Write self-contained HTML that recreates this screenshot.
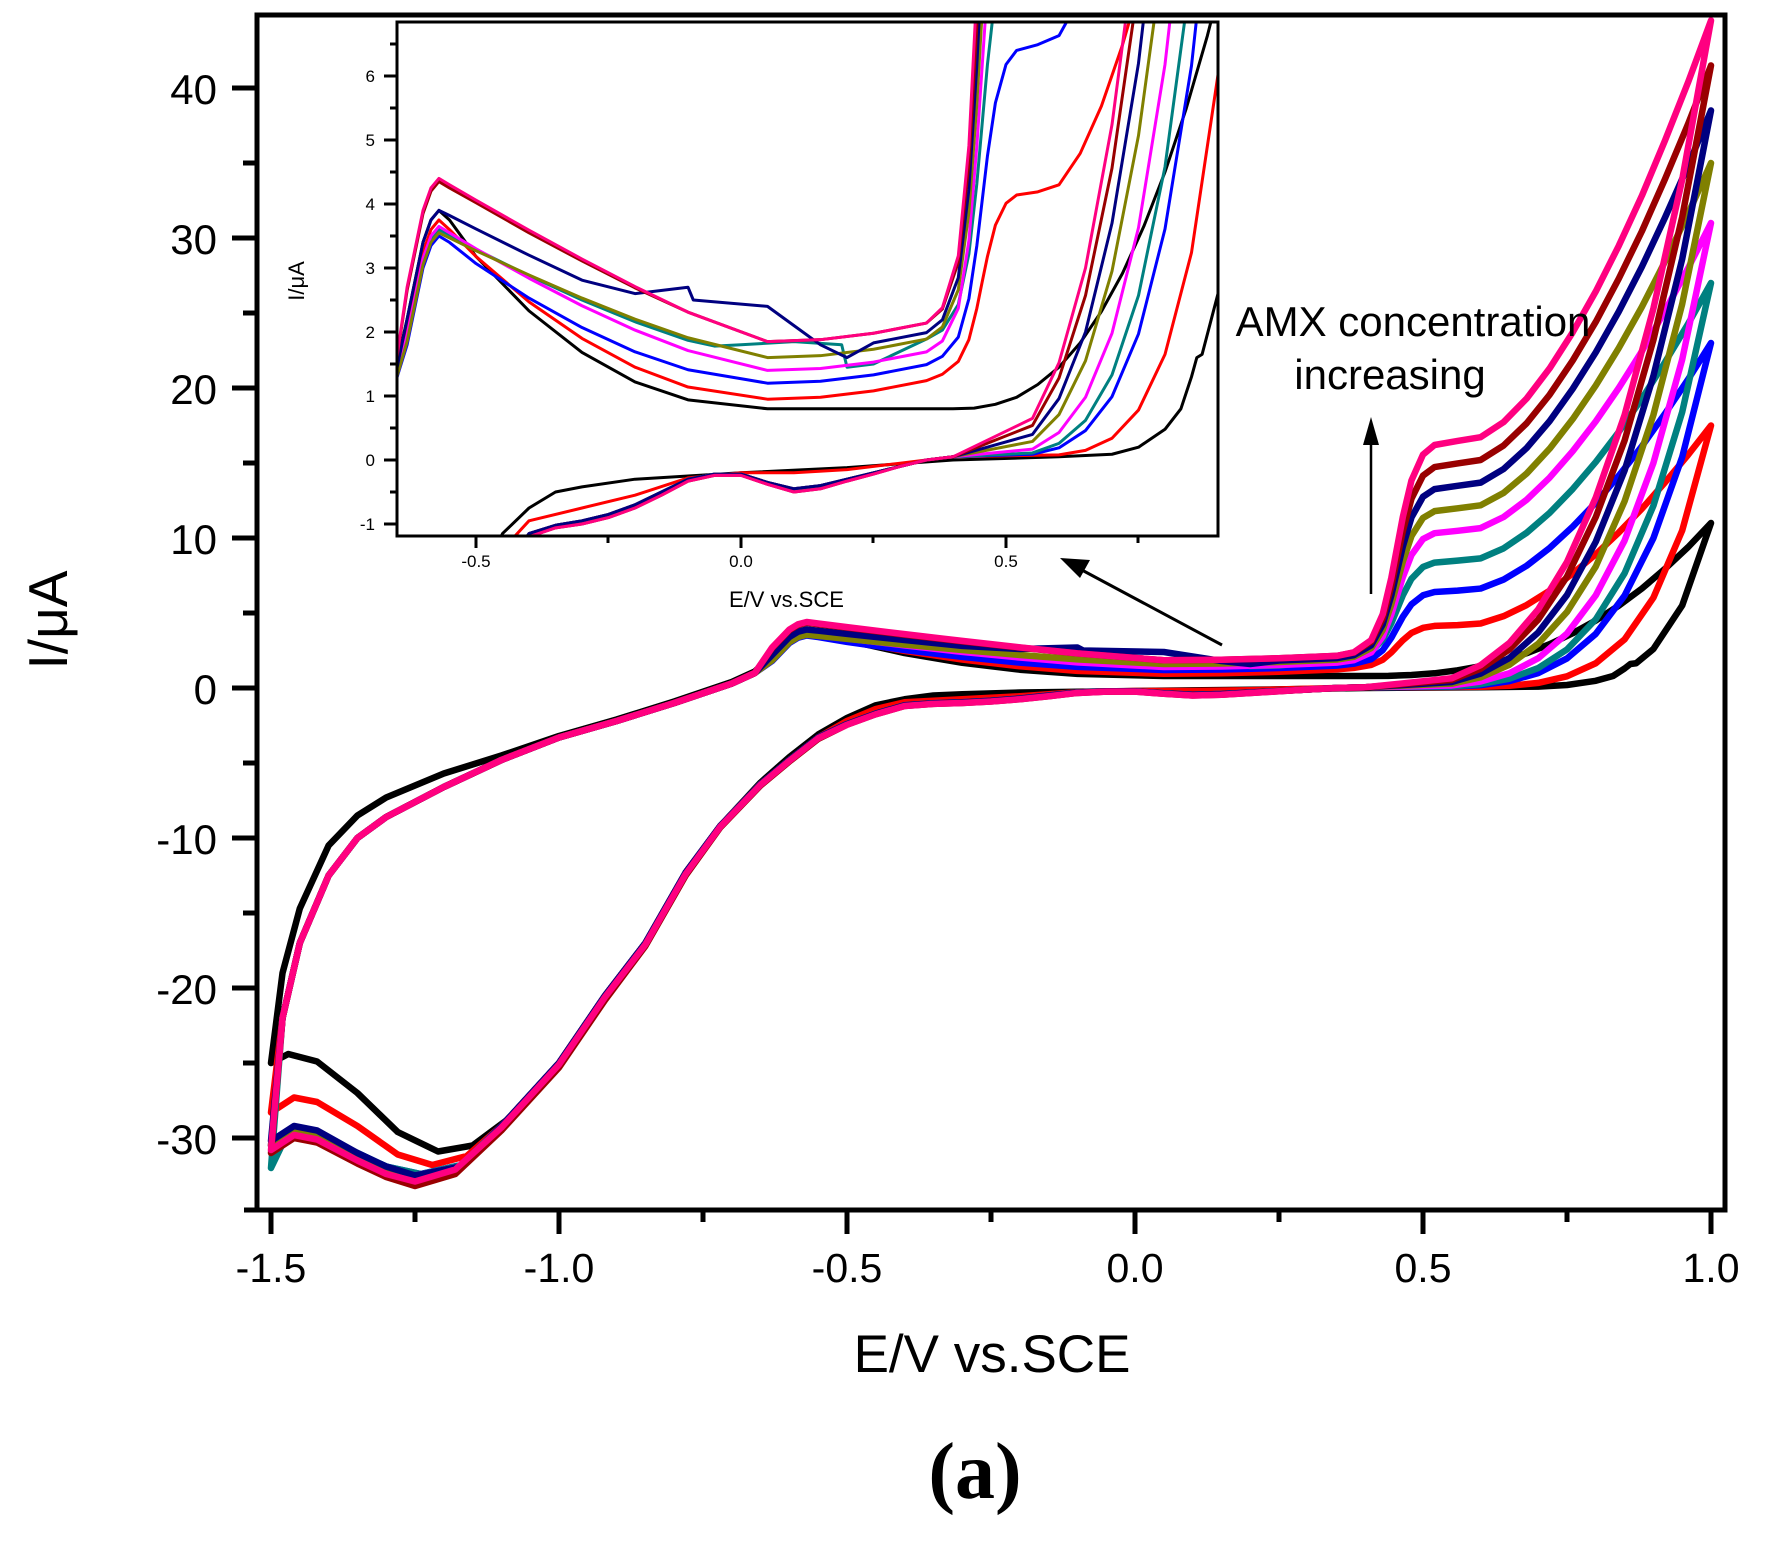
<!DOCTYPE html>
<html><head><meta charset="utf-8"><style>
html,body{margin:0;padding:0;background:#fff;width:1776px;height:1548px;overflow:hidden;}
svg{display:block;position:absolute;left:0;top:0;}
text{font-family:"Liberation Sans",sans-serif;fill:#000;}
.c path, .c use{fill:none;stroke-linejoin:round;stroke-linecap:round;}
</style></head><body>
<svg width="1776" height="1548" viewBox="0 0 1776 1548" xmlns="http://www.w3.org/2000/svg" xmlns:xlink="http://www.w3.org/1999/xlink">
<defs>
<clipPath id="cm"><rect x="259" y="17" width="1464" height="1191"/></clipPath>
<clipPath id="ci"><rect x="398" y="23" width="819" height="512"/></clipPath>
<path id="s0" vector-effect="non-scaling-stroke" d="M-1.5 -25 -1.47 -24.4 -1.42 -24.9 -1.35 -27 -1.28 -29.6 -1.21 -30.9 -1.15 -30.5 -1.08 -28.5 -1 -25 -0.92 -20.5 -0.85 -17 -0.78 -12.3 -0.72 -9.2 -0.65 -6.3 -0.6 -4.6 -0.55 -3.1 -0.5 -2 -0.45 -1.15 -0.4 -0.75 -0.35 -0.5 -0.3 -0.42 -0.2 -0.3 -0.1 -0.25 0 -0.2 0.2 -0.12 0.4 0 0.6 0.05 0.7 0.09 0.75 0.2 0.8 0.48 0.83 0.8 0.85 1.3 0.86 1.6 0.87 1.65 0.9 2.6 0.95 5.5 1 11 0.96 9.38 0.92 7.94 0.88 6.63 0.84 5.49 0.8 4.5 0.76 3.65 0.72 2.92 0.68 2.32 0.64 1.83 0.6 1.45 0.56 1.18 0.52 0.98 0.48 0.87 0.44 0.81 0.4 0.8 0.05 0.8 -0.1 0.94 -0.2 1.22 -0.3 1.68 -0.4 2.33 -0.5 3.18 -0.55 3.75 -0.57 3.9 -0.585 3.75 -0.6 3.4 -0.63 2.2 -0.66 1.1 -0.7 0.4 -0.8 -0.9 -0.9 -2.1 -1 -3.2 -1.1 -4.5 -1.2 -5.7 -1.3 -7.3 -1.35 -8.5 -1.4 -10.5 -1.45 -14.7 -1.48 -19 -1.5 -25"/>
<path id="s1" vector-effect="non-scaling-stroke" d="M-1.5 -28.3 -1.46 -27.3 -1.42 -27.6 -1.35 -29.2 -1.28 -31.1 -1.22 -31.8 -1.16 -31.2 -1.1 -29.2 -1 -25 -0.92 -20.5 -0.85 -17 -0.78 -12.3 -0.72 -9.2 -0.65 -6.4 -0.6 -4.8 -0.55 -3.3 -0.5 -2.2 -0.45 -1.4 -0.4 -0.95 -0.3 -0.75 -0.2 -0.55 -0.1 -0.28 0 -0.2 0.1 -0.2 0.2 -0.15 0.3 -0.05 0.4 0.05 0.6 0.08 0.65 0.15 0.7 0.34 0.75 0.78 0.8 1.65 0.85 3.24 0.9 6.02 0.95 10.5 1 17.5 0.96 15.53 0.92 13.7 0.88 11.95 0.84 10.37 0.8 8.92 0.76 7.63 0.72 6.49 0.68 5.53 0.64 4.79 0.6 4.3 0.56 4.19 0.52 4.14 0.5 4.01 0.48 3.67 0.465 3.18 0.455 2.78 0.445 2.37 0.43 1.88 0.41 1.54 0.38 1.34 0.35 1.24 0.25 1.08 0.15 0.98 0.05 0.95 -0.1 1.14 -0.2 1.45 -0.3 1.9 -0.4 2.47 -0.5 3.18 -0.55 3.6 -0.57 3.75 -0.585 3.6 -0.6 3.25 -0.63 2.05 -0.66 1 -0.7 0.3 -0.8 -1 -0.9 -2.2 -1 -3.3 -1.1 -4.8 -1.2 -6.6 -1.3 -8.6 -1.35 -10 -1.4 -12.5 -1.45 -17 -1.48 -22 -1.5 -28.3"/>
<path id="s2" vector-effect="non-scaling-stroke" d="M-1.5 -30.5 -1.46 -29.5 -1.42 -29.8 -1.35 -31 -1.3 -31.9 -1.24 -32.4 -1.17 -31.8 -1.1 -29.2 -1 -25 -0.92 -20.5 -0.85 -17 -0.78 -12.3 -0.72 -9.2 -0.65 -6.4 -0.6 -4.8 -0.55 -3.3 -0.5 -2.4 -0.45 -1.7 -0.4 -1.15 -0.35 -1.02 -0.3 -0.95 -0.25 -0.85 -0.2 -0.7 -0.15 -0.5 -0.1 -0.3 -0.05 -0.22 0 -0.22 0.05 -0.35 0.1 -0.45 0.15 -0.4 0.2 -0.3 0.25 -0.2 0.3 -0.1 0.35 0 0.4 0.05 0.55 0.09 0.6 0.19 0.65 0.46 0.7 0.99 0.75 1.97 0.8 3.61 0.85 6.16 0.9 9.99 0.95 15.4 1 23 0.96 20.56 0.92 18.28 0.88 16.12 0.84 14.16 0.8 12.36 0.76 10.76 0.72 9.34 0.68 8.15 0.64 7.23 0.6 6.63 0.56 6.49 0.52 6.4 0.5 6.18 0.48 5.58 0.465 4.75 0.455 4.05 0.445 3.35 0.43 2.52 0.41 1.92 0.38 1.62 0.35 1.49 0.25 1.33 0.15 1.23 0.05 1.2 -0.1 1.41 -0.2 1.69 -0.3 2.07 -0.4 2.53 -0.5 3.07 -0.55 3.4 -0.57 3.5 -0.585 3.35 -0.6 3 -0.63 1.8 -0.66 1 -0.7 0.3 -0.8 -1 -0.9 -2.2 -1 -3.3 -1.1 -4.8 -1.2 -6.6 -1.3 -8.6 -1.35 -10 -1.4 -12.5 -1.45 -17 -1.48 -22 -1.5 -30.5"/>
<path id="s3" vector-effect="non-scaling-stroke" d="M-1.5 -32 -1.47 -29.6 -1.42 -29.8 -1.35 -31 -1.3 -31.9 -1.24 -32.4 -1.17 -31.8 -1.1 -29.2 -1 -25 -0.92 -20.5 -0.85 -17 -0.78 -12.3 -0.72 -9.2 -0.65 -6.4 -0.6 -4.8 -0.55 -3.3 -0.5 -2.4 -0.45 -1.7 -0.4 -1.15 -0.35 -1.02 -0.3 -0.95 -0.25 -0.85 -0.2 -0.7 -0.15 -0.5 -0.1 -0.3 -0.05 -0.22 0 -0.22 0.05 -0.35 0.1 -0.45 0.15 -0.4 0.2 -0.3 0.25 -0.2 0.3 -0.1 0.35 0 0.4 0.05 0.55 0.11 0.6 0.26 0.65 0.62 0.7 1.33 0.75 2.57 0.8 4.58 0.85 7.65 0.9 12.15 0.95 18.4 1 27 0.96 24.26 0.92 21.71 0.88 19.29 0.84 17.08 0.8 15.07 0.76 13.27 0.72 11.68 0.68 10.35 0.64 9.31 0.6 8.64 0.56 8.49 0.52 8.36 0.5 8.07 0.48 7.28 0.465 6.18 0.455 5.25 0.445 4.32 0.43 3.22 0.41 2.43 0.38 2.03 0.35 1.89 0.25 1.5 0.2 1.45 0.19 1.8 0.1 1.85 0 1.8 -0.05 1.78 -0.1 1.87 -0.2 2.16 -0.3 2.5 -0.4 2.88 -0.5 3.29 -0.55 3.52 -0.57 3.6 -0.585 3.45 -0.6 3.1 -0.63 1.9 -0.66 1 -0.7 0.3 -0.8 -1 -0.9 -2.2 -1 -3.3 -1.1 -4.8 -1.2 -6.6 -1.3 -8.6 -1.35 -10 -1.4 -12.5 -1.45 -17 -1.48 -22 -1.5 -32"/>
<path id="s4" vector-effect="non-scaling-stroke" d="M-1.5 -30.5 -1.46 -29.5 -1.42 -29.8 -1.35 -31.1 -1.3 -32 -1.25 -32.5 -1.17 -31.9 -1.1 -29.2 -1 -25 -0.92 -20.5 -0.85 -17 -0.78 -12.3 -0.72 -9.2 -0.65 -6.4 -0.6 -4.8 -0.55 -3.3 -0.5 -2.4 -0.45 -1.7 -0.4 -1.15 -0.35 -1.02 -0.3 -0.95 -0.25 -0.85 -0.2 -0.7 -0.15 -0.5 -0.1 -0.3 -0.05 -0.22 0 -0.22 0.05 -0.35 0.1 -0.45 0.15 -0.4 0.2 -0.3 0.25 -0.2 0.3 -0.1 0.35 0 0.4 0.05 0.55 0.17 0.6 0.43 0.65 0.98 0.7 1.98 0.75 3.63 0.8 6.18 0.85 9.83 0.9 15 0.95 21.9 1 31 0.96 27.97 0.92 25.14 0.88 22.45 0.84 20.01 0.8 17.78 0.76 15.79 0.72 14.03 0.68 12.55 0.64 11.4 0.6 10.66 0.56 10.48 0.52 10.32 0.5 9.93 0.48 8.87 0.465 7.39 0.455 6.15 0.445 4.91 0.43 3.43 0.41 2.37 0.38 1.86 0.35 1.69 0.25 1.53 0.15 1.43 0.05 1.4 -0.1 1.71 -0.2 2.03 -0.3 2.41 -0.4 2.84 -0.5 3.3 -0.55 3.55 -0.57 3.65 -0.585 3.5 -0.6 3.15 -0.63 1.95 -0.66 1 -0.7 0.3 -0.8 -1 -0.9 -2.2 -1 -3.3 -1.1 -4.8 -1.2 -6.6 -1.3 -8.6 -1.35 -10 -1.4 -12.5 -1.45 -17 -1.48 -22 -1.5 -30.5"/>
<path id="s5" vector-effect="non-scaling-stroke" d="M-1.5 -30.5 -1.46 -29.5 -1.42 -29.8 -1.35 -31.2 -1.3 -32.1 -1.25 -32.7 -1.17 -32 -1.1 -29.2 -1 -25 -0.92 -20.5 -0.85 -17 -0.78 -12.3 -0.72 -9.2 -0.65 -6.4 -0.6 -4.8 -0.55 -3.3 -0.5 -2.4 -0.45 -1.7 -0.4 -1.15 -0.35 -1.02 -0.3 -0.95 -0.25 -0.85 -0.2 -0.7 -0.15 -0.5 -0.1 -0.3 -0.05 -0.22 0 -0.22 0.05 -0.35 0.1 -0.45 0.15 -0.4 0.2 -0.3 0.25 -0.2 0.3 -0.1 0.35 0 0.4 0.05 0.55 0.29 0.6 0.71 0.65 1.55 0.7 2.95 0.75 5.07 0.8 8.1 0.85 12.45 0.9 18.2 0.95 25.6 1 35 0.96 31.6 0.92 28.42 0.88 25.41 0.84 22.67 0.8 20.17 0.76 17.93 0.72 15.96 0.68 14.3 0.64 13.01 0.6 12.18 0.56 11.98 0.52 11.79 0.5 11.34 0.48 10.13 0.465 8.43 0.455 7 0.445 5.57 0.43 3.87 0.41 2.66 0.38 2.08 0.35 1.89 0.25 1.73 0.15 1.63 0.05 1.6 -0.1 1.91 -0.2 2.2 -0.3 2.53 -0.4 2.89 -0.5 3.27 -0.55 3.47 -0.57 3.55 -0.585 3.4 -0.6 3.05 -0.63 1.85 -0.66 1 -0.7 0.3 -0.8 -1 -0.9 -2.2 -1 -3.3 -1.1 -4.8 -1.2 -6.6 -1.3 -8.6 -1.35 -10 -1.4 -12.5 -1.45 -17 -1.48 -22 -1.5 -30.5"/>
<path id="s6" vector-effect="non-scaling-stroke" d="M-1.5 -30.2 -1.46 -29.2 -1.42 -29.5 -1.35 -31 -1.3 -31.9 -1.25 -32.5 -1.17 -31.9 -1.1 -29.2 -1 -25 -0.92 -20.5 -0.85 -17 -0.78 -12.3 -0.72 -9.2 -0.65 -6.4 -0.6 -4.8 -0.55 -3.3 -0.5 -2.4 -0.45 -1.7 -0.4 -1.15 -0.35 -1.02 -0.3 -0.95 -0.25 -0.85 -0.2 -0.7 -0.15 -0.5 -0.1 -0.3 -0.05 -0.22 0 -0.22 0.05 -0.35 0.1 -0.45 0.15 -0.4 0.2 -0.3 0.25 -0.2 0.3 -0.1 0.35 0 0.4 0.05 0.55 0.4 0.6 0.96 0.65 2 0.7 3.7 0.75 6.2 0.8 9.75 0.85 14.5 0.9 20.8 0.95 28.6 1 38.5 0.96 34.8 0.92 31.35 0.88 28.08 0.84 25.1 0.8 22.38 0.76 19.95 0.72 17.8 0.68 16 0.64 14.6 0.6 13.69 0.56 13.48 0.52 13.26 0.5 12.75 0.48 11.37 0.465 9.43 0.455 7.8 0.445 6.17 0.43 4.23 0.41 2.85 0.38 2.19 0.35 1.99 0.25 1.83 0.2 1.6 0.15 1.8 0.1 2.1 0.05 2.4 -0.09 2.5 -0.1 2.7 -0.2 2.6 -0.3 2.81 -0.4 3.2 -0.5 3.61 -0.55 3.82 -0.57 3.9 -0.585 3.75 -0.6 3.4 -0.63 2.2 -0.66 1 -0.7 0.3 -0.8 -1 -0.9 -2.2 -1 -3.3 -1.1 -4.8 -1.2 -6.6 -1.3 -8.6 -1.35 -10 -1.4 -12.5 -1.45 -17 -1.48 -22 -1.5 -30.2"/>
<path id="s7" vector-effect="non-scaling-stroke" d="M-1.5 -31 -1.46 -30 -1.42 -30.3 -1.35 -31.7 -1.3 -32.6 -1.25 -33.2 -1.18 -32.4 -1.1 -29.5 -1 -25.3 -0.92 -20.8 -0.85 -17.2 -0.78 -12.5 -0.72 -9.3 -0.65 -6.5 -0.6 -4.9 -0.55 -3.4 -0.5 -2.45 -0.45 -1.75 -0.4 -1.2 -0.35 -1.06 -0.3 -1 -0.25 -0.9 -0.2 -0.75 -0.15 -0.55 -0.1 -0.33 -0.05 -0.24 0 -0.24 0.05 -0.38 0.1 -0.5 0.15 -0.45 0.2 -0.33 0.25 -0.22 0.3 -0.1 0.35 0 0.4 0.05 0.55 0.54 0.6 1.28 0.65 2.57 0.7 4.56 0.75 7.43 0.8 11.4 0.85 16.5 0.9 23.2 0.95 31.4 1 41.5 0.96 37.58 0.92 33.92 0.88 30.45 0.84 27.3 0.8 24.41 0.76 21.84 0.72 19.56 0.68 17.65 0.64 16.17 0.6 15.2 0.56 14.97 0.52 14.73 0.5 14.16 0.48 12.62 0.465 10.45 0.455 8.63 0.445 6.8 0.43 4.63 0.41 3.09 0.38 2.36 0.35 2.14 0.25 1.98 0.15 1.88 0.05 1.85 -0.1 2.31 -0.2 2.69 -0.3 3.11 -0.4 3.55 -0.5 4.02 -0.55 4.25 -0.57 4.35 -0.585 4.2 -0.6 3.85 -0.63 2.65 -0.66 1 -0.7 0.3 -0.8 -1 -0.9 -2.2 -1 -3.3 -1.1 -4.8 -1.2 -6.6 -1.3 -8.6 -1.35 -10 -1.4 -12.5 -1.45 -17 -1.48 -22 -1.5 -31"/>
<path id="s8" vector-effect="non-scaling-stroke" d="M-1.5 -30.8 -1.46 -29.8 -1.42 -30.1 -1.35 -31.5 -1.3 -32.4 -1.25 -32.9 -1.18 -32.1 -1.1 -29.3 -1 -25.1 -0.92 -20.6 -0.85 -17.1 -0.78 -12.4 -0.72 -9.25 -0.65 -6.45 -0.6 -4.85 -0.55 -3.35 -0.5 -2.45 -0.45 -1.75 -0.4 -1.2 -0.35 -1.06 -0.3 -1 -0.25 -0.9 -0.2 -0.75 -0.15 -0.55 -0.1 -0.33 -0.05 -0.24 0 -0.24 0.05 -0.38 0.1 -0.5 0.15 -0.45 0.2 -0.33 0.25 -0.22 0.3 -0.1 0.35 0 0.4 0.05 0.55 0.65 0.6 1.52 0.65 3 0.7 5.24 0.75 8.4 0.8 12.7 0.85 18.2 0.9 25.3 0.95 33.9 1 44.5 0.96 40.36 0.92 36.49 0.88 32.82 0.84 29.49 0.8 26.44 0.76 23.72 0.72 21.32 0.68 19.3 0.64 17.73 0.6 16.72 0.56 16.47 0.52 16.2 0.5 15.56 0.48 13.84 0.465 11.41 0.455 9.38 0.445 7.34 0.43 4.91 0.41 3.19 0.38 2.38 0.35 2.14 0.25 1.98 0.15 1.88 0.05 1.85 -0.1 2.31 -0.2 2.71 -0.3 3.14 -0.4 3.59 -0.5 4.06 -0.55 4.3 -0.57 4.4 -0.585 4.25 -0.6 3.9 -0.63 2.7 -0.66 1 -0.7 0.3 -0.8 -1 -0.9 -2.2 -1 -3.3 -1.1 -4.8 -1.2 -6.6 -1.3 -8.6 -1.35 -10 -1.4 -12.5 -1.45 -17 -1.48 -22 -1.5 -30.8"/>
</defs>

<g clip-path="url(#cm)">
<g class="c" transform="translate(1135,688) scale(576,-15)" stroke-width="6.5">
<use href="#s0" xlink:href="#s0" stroke="#000000"/>
<use href="#s1" xlink:href="#s1" stroke="#ff0000"/>
<use href="#s2" xlink:href="#s2" stroke="#0000ff"/>
<use href="#s3" xlink:href="#s3" stroke="#008080"/>
<use href="#s4" xlink:href="#s4" stroke="#ff00ff"/>
<use href="#s5" xlink:href="#s5" stroke="#808000"/>
<use href="#s6" xlink:href="#s6" stroke="#000080"/>
<use href="#s7" xlink:href="#s7" stroke="#990000"/>
<use href="#s8" xlink:href="#s8" stroke="#ff0080"/>
</g>
</g>

<rect x="397" y="22" width="821" height="514" fill="#fff" stroke="none"/>
<g clip-path="url(#ci)">
<g class="c" transform="translate(741,460) scale(530,-64)" stroke-width="3">
<use href="#s0" xlink:href="#s0" stroke="#000000"/>
<use href="#s1" xlink:href="#s1" stroke="#ff0000"/>
<use href="#s2" xlink:href="#s2" stroke="#0000ff"/>
<use href="#s3" xlink:href="#s3" stroke="#008080"/>
<use href="#s4" xlink:href="#s4" stroke="#ff00ff"/>
<use href="#s5" xlink:href="#s5" stroke="#808000"/>
<use href="#s6" xlink:href="#s6" stroke="#000080"/>
<use href="#s7" xlink:href="#s7" stroke="#990000"/>
<use href="#s8" xlink:href="#s8" stroke="#ff0080"/>
</g>
</g>
<rect x="397" y="22" width="821" height="514" fill="none" stroke="#000" stroke-width="3"/>
<rect x="257" y="15" width="1468" height="1195" fill="none" stroke="#000" stroke-width="5"/>
<line x1="244" y1="1210" x2="1727" y2="1210" stroke="#000" stroke-width="5"/>

<g stroke="#000" stroke-width="5">
<path d="M232 88H257M232 238H257M232 388H257M232 538H257M232 688H257M232 838H257M232 988H257M232 1138H257"/>
<path d="M243 163H257M243 313H257M243 463H257M243 613H257M243 763H257M243 913H257M243 1063H257"/>
<path d="M271 1210V1234M559 1210V1234M847 1210V1234M1135 1210V1234M1423 1210V1234M1711 1210V1234"/>
<path d="M415 1210V1222M703 1210V1222M991 1210V1222M1279 1210V1222M1567 1210V1222"/>
</g>
<g stroke="#000" stroke-width="3">
<path d="M384 524H397M384 460H397M384 396H397M384 332H397M384 268H397M384 204H397M384 140H397M384 76H397"/>
<path d="M390 492H397M390 428H397M390 364H397M390 300H397M390 236H397M390 172H397M390 108H397M390 44H397"/>
<path d="M476 536V548M741 536V548M1006 536V548M608 536V543M873 536V543M1138 536V543"/>
</g>

<g font-size="42" text-anchor="end">
<text x="217" y="104">40</text>
<text x="217" y="254">30</text>
<text x="217" y="404">20</text>
<text x="217" y="554">10</text>
<text x="217" y="704">0</text>
<text x="217" y="854">-10</text>
<text x="217" y="1004">-20</text>
<text x="217" y="1154">-30</text>
</g>
<g font-size="41" text-anchor="middle">
<text x="271" y="1282">-1.5</text>
<text x="559" y="1282">-1.0</text>
<text x="847" y="1282">-0.5</text>
<text x="1135" y="1282">0.0</text>
<text x="1423" y="1282">0.5</text>
<text x="1711" y="1282">1.0</text>
</g>
<text x="992" y="1372" font-size="53" text-anchor="middle">E/V vs.SCE</text>
<text transform="translate(67,620) rotate(-90)" font-size="55" text-anchor="middle">I/μA</text>
<text x="975" y="1498" font-size="80" text-anchor="middle" style="font-family:'Liberation Serif',serif;font-weight:bold">(a)</text>

<g font-size="17" text-anchor="end">
<text x="375" y="530">-1</text>
<text x="375" y="466">0</text>
<text x="375" y="402">1</text>
<text x="375" y="338">2</text>
<text x="375" y="274">3</text>
<text x="375" y="210">4</text>
<text x="375" y="146">5</text>
<text x="375" y="82">6</text>
</g>
<g font-size="17" text-anchor="middle">
<text x="476" y="567">-0.5</text>
<text x="741" y="567">0.0</text>
<text x="1006" y="567">0.5</text>
</g>
<text x="729" y="607" font-size="22">E/V vs.SCE</text>
<text transform="translate(304,281) rotate(-90)" font-size="22" text-anchor="middle">I/μA</text>

<text x="1413" y="336" font-size="42" text-anchor="middle">AMX concentration</text>
<text x="1390" y="389" font-size="42" text-anchor="middle">increasing</text>
<line x1="1371" y1="594" x2="1371" y2="440" stroke="#000" stroke-width="2.5"/>
<polygon points="1371,417 1363,445 1379,445" fill="#000"/>
<line x1="1222" y1="645" x2="1080" y2="569" stroke="#000" stroke-width="3"/>
<polygon points="1060,558 1090,560 1080,578" fill="#000"/>
</svg>
</body></html>
